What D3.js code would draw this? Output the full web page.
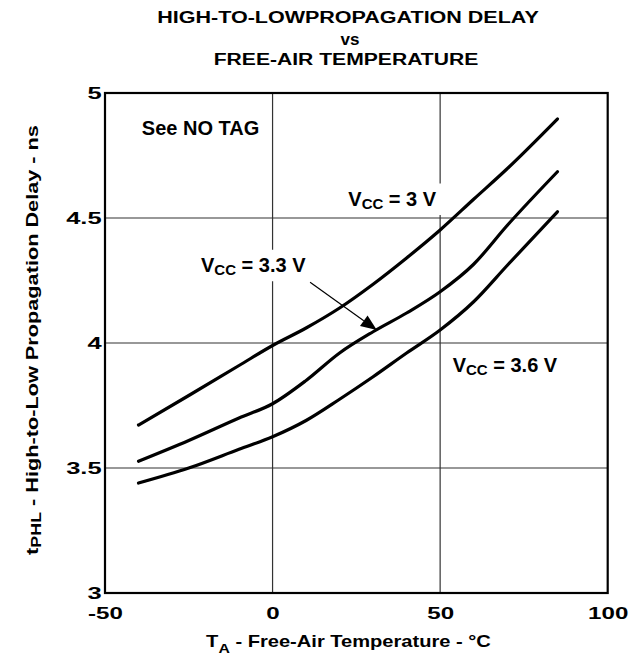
<!DOCTYPE html>
<html><head><meta charset="utf-8">
<script src="https://cdn.jsdelivr.net/npm/d3@7/dist/d3.min.js"></script>
<style>
html,body{margin:0;padding:0;background:#fff;}
svg text{font-family:"Liberation Sans",Arial,Helvetica,sans-serif;font-weight:bold;fill:#000;}
</style></head>
<body><svg id="c" width="639" height="660"></svg>
<script>
// ---- data ----
const temps = [-40, -25, -10, 0, 10, 20, 30, 40, 50, 60, 70, 85];
const vcc3  = [3.672, 3.79, 3.91, 3.99, 4.06, 4.14, 4.235, 4.34, 4.452, 4.575, 4.697, 4.896];
const vcc33 = [3.527, 3.61, 3.70, 3.757, 3.85, 3.96, 4.045, 4.12, 4.205, 4.315, 4.47, 4.685];
const vcc36 = [3.44, 3.50, 3.575, 3.625, 3.69, 3.775, 3.865, 3.96, 4.052, 4.165, 4.31, 4.525];
const xTicks = [-50, 0, 50, 100];
const xTickLabels = ["-50", "0", "50", "100"];
const yTicks = [3, 3.5, 4, 4.5, 5];
const yTickLabels = ["3", "3.5", "4", "4.5", "5"];
const titleLines = ["HIGH-TO-LOWPROPAGATION DELAY", "vs", "FREE-AIR TEMPERATURE"];
// annotation anchors (data units)
const notes = [
  {main:"See NO TAG", t:-39.0, v:4.832},
  {main:"V", sub:"CC", rest:" = 3 V", t:22.6, v:4.55},
  {main:"V", sub:"CC", rest:" = 3.3 V", t:-21.35, v:4.285},
  {main:"V", sub:"CC", rest:" = 3.6 V", t:53.75, v:3.885}
];
const arrowFrom = {t:11.2, v:4.243};
const arrowTo = {t:31.1, v:4.052};

// ---- layout ----
const svg = d3.select("#c");
const L = 105, R = 607.7, T = 93, B = 593;
const x = d3.scaleLinear().domain([-50, 100]).range([L, R]);
const y = d3.scaleLinear().domain([3, 5]).range([B, T]);

function fitWidth(sel, target, cx) {
  const w = sel.node().getComputedTextLength();
  sel.attr("transform", `translate(${cx},0) scale(${target / w},1) translate(${-cx},0)`);
}

// title
const titleY = [23, 45.5, 65.5];
const titleW = [382, 19, 265];
const titleX = [348, 350, 346];
titleLines.forEach((s, i) => {
  const t = svg.append("text").attr("x", titleX[i]).attr("y", titleY[i])
    .attr("text-anchor", "middle").style("font-size", "17px").text(s);
  fitWidth(t, titleW[i], titleX[i]);
});

// vertical grid lines
const gridV = xTicks.filter(d => d > -50 && d < 100);
const gridH = yTicks.filter(d => d > 3 && d < 5);
svg.append("g").selectAll("line").data(gridV).join("line")
  .attr("x1", d => x(d)).attr("x2", d => x(d)).attr("y1", T).attr("y2", B)
  .attr("stroke", "#333").attr("stroke-width", 1.2);

const maskLayer = svg.append("g");
const hLayer = svg.append("g");
hLayer.selectAll("line").data(gridH).join("line")
  .attr("x1", L).attr("x2", R).attr("y1", d => y(d)).attr("y2", d => y(d))
  .attr("stroke", "#333").attr("stroke-width", 1.2);

// frame
svg.append("rect").attr("x", L).attr("y", T).attr("width", R - L).attr("height", B - T)
  .attr("fill", "none").attr("stroke", "#000").attr("stroke-width", 2.2);

// curves
const line = d3.line().x(d => x(d[0])).y(d => y(d[1])).curve(d3.curveMonotoneX);
[vcc3, vcc33, vcc36].forEach(vals => {
  svg.append("path").datum(temps.map((t, i) => [t, vals[i]]))
    .attr("d", line).attr("fill", "none").attr("stroke", "#000")
    .attr("stroke-width", 3.2).attr("stroke-linejoin", "round").attr("stroke-linecap", "round");
});

// annotations
const textLayer = svg.append("g");
notes.forEach(n => {
  const t = textLayer.append("text").attr("x", x(n.t)).attr("y", y(n.v)).style("font-size", "20px");
  t.append("tspan").text(n.main);
  if (n.sub) {
    t.append("tspan").attr("dy", 3.5).style("font-size", "15px").text(n.sub);
    t.append("tspan").attr("dy", -3.5).text(n.rest);
  }
  const bb = t.node().getBBox();
  maskLayer.append("rect").attr("x", bb.x - 5).attr("y", bb.y - 4)
    .attr("width", bb.width + 10).attr("height", bb.height + 7).attr("fill", "#fff");
});

// arrow
const ax1 = x(arrowFrom.t), ay1 = y(arrowFrom.v), ax2 = x(arrowTo.t), ay2 = y(arrowTo.v);
const ang = Math.atan2(ay2 - ay1, ax2 - ax1);
const hl = 16, hw = 6.5;
const bx = ax2 - hl * Math.cos(ang), by = ay2 - hl * Math.sin(ang);
svg.append("line").attr("x1", ax1).attr("y1", ay1).attr("x2", bx).attr("y2", by)
  .attr("stroke", "#000").attr("stroke-width", 1.2);
svg.append("polygon").attr("points", [
  [ax2, ay2],
  [bx + hw * Math.sin(ang), by - hw * Math.cos(ang)],
  [bx - hw * Math.sin(ang), by + hw * Math.cos(ang)]
].map(p => p.join(",")).join(" ")).attr("fill", "#000");

// axes
const xAxis = d3.axisBottom(x).tickValues(xTicks).tickSize(0).tickPadding(14)
  .tickFormat((d, i) => xTickLabels[i]);
const gx = svg.append("g").attr("transform", `translate(0,${B})`).call(xAxis);
gx.select(".domain").remove();
gx.selectAll("text").style("font-size", "17px").attr("fill", "#000")
  .attr("font-family", null).attr("transform", "scale(1.42,1)");

const yAxis = d3.axisLeft(y).tickValues(yTicks).tickSize(0).tickPadding(4)
  .tickFormat((d, i) => yTickLabels[i]);
const gy = svg.append("g").attr("transform", `translate(${L},0)`).call(yAxis);
gy.select(".domain").remove();
gy.selectAll("text").style("font-size", "17px").attr("fill", "#000")
  .attr("font-family", null).attr("x", -2.3).attr("transform", "scale(1.5,1)");

// x axis title
const xt = svg.append("text").attr("x", 348.5).attr("y", 647).attr("text-anchor", "middle")
  .style("font-size", "16.5px");
xt.append("tspan").text("T");
xt.append("tspan").attr("dy", 6).style("font-size", "13px").text("A");
xt.append("tspan").attr("dy", -6).text(" - Free-Air Temperature - \u00B0C");
fitWidth(xt, 285, 348.5);

// y axis title
const yg = svg.append("g").attr("transform", "translate(37.5,340) rotate(-90)");
const yt = yg.append("text").attr("x", 0).attr("y", 0).attr("text-anchor", "middle")
  .style("font-size", "17px");
yt.append("tspan").text("t");
yt.append("tspan").attr("dy", 3).style("font-size", "14px").text("PHL");
yt.append("tspan").attr("dy", -3).text(" - High-to-Low Propagation Delay - ns");
fitWidth(yt, 430, 0);
</script></body></html>
